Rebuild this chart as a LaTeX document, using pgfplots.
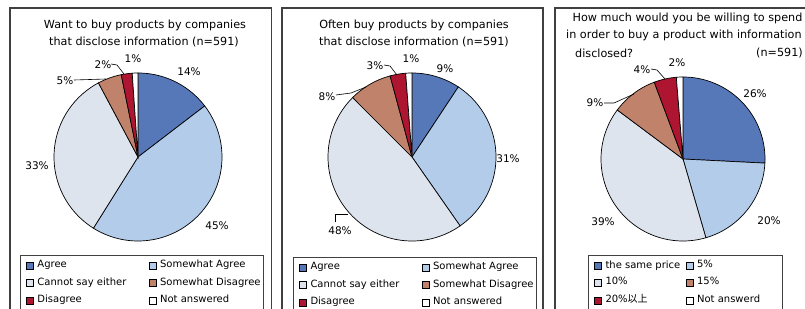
\documentclass[border=0pt]{standalone}
\usepackage{pgfplots}
\pgfplotsset{compat=1.18}
\usepackage{fontspec}
\setmainfont{DejaVu Sans}
\newfontfamily\cjk{Noto Sans CJK JP}
\definecolor{cA}{HTML}{5677B8}
\definecolor{cB}{HTML}{B3CCEA}
\definecolor{cC}{HTML}{DEE4EE}
\definecolor{cD}{HTML}{C0826A}
\definecolor{cE}{HTML}{AE1530}
\definecolor{cF}{HTML}{FFFFFF}
\definecolor{frame}{HTML}{404040}
% slice: #1 = start (cumulative %), #2 = value (%), #3 = colour
\newcommand{\slice}[3]{\addplot[fill=#3, draw=black, line width=0.7pt, domain={90-3.6*(#1+#2)}:{90-3.6*(#1)}, samples=80, forget plot] ({cos(x)},{sin(x)}) -- (axis cs:0,0) -- cycle;}
\pgfplotsset{pie/.style={scale only axis, hide axis, xmin=-1, xmax=1, ymin=-1, ymax=1, clip=false, anchor=south west,
  legend columns=2, legend cell align=left,
  legend image code/.code={\draw[##1, draw=black, line width=0.6pt] (0pt,-3.5pt) rectangle (7pt,3.5pt);},
  legend style={draw=frame, line width=0.8pt, fill=white, inner xsep=6pt, inner ysep=3pt, anchor=north west, row sep=1.5pt,
    font=\fontsize{10}{12}\selectfont, nodes={inner xsep=3.5pt, inner ysep=2pt, text depth=4pt}}}}
\newcommand{\lbl}{\fontsize{10.5}{12}\selectfont}
\newcommand{\ttl}{\fontsize{11.2}{13}\selectfont}
\begin{document}
\begin{tikzpicture}[x=1pt,y=1pt]
\useasboundingbox (0,0) rectangle (805,308);
\clip (0,0) rectangle (805,308);
% panel frames
\draw[frame, line width=1.2pt] (10,-5) rectangle (271.5,300);
\draw[frame, line width=1.2pt] (282,-5) rectangle (543,300);
\draw[frame, line width=1.2pt] (555,-5) rectangle (815,300);
% ---------- panel 1 ----------
\node[font=\ttl] at (145,283) {Want to buy products by companies};
\node[font=\ttl] at (144,266) {that disclose information (n=591)};
\begin{axis}[pie, at={(54pt,67pt)}, width=168pt, height=168pt,
  legend style={at={(-0.2024,-0.0833)}}]
\slice{0}{14.6}{cA}
\slice{14.6}{44.3}{cB}
\slice{58.9}{33.3}{cC}
\slice{92.2}{4.6}{cD}
\slice{96.8}{2.1}{cE}
\slice{98.9}{1.1}{cF}
\addlegendimage{fill=cA}\addlegendentry{\makebox[108pt][l]{Agree}}
\addlegendimage{fill=cB}\addlegendentry{\makebox[94pt][l]{Somewhat Agree}}
\addlegendimage{fill=cC}\addlegendentry{\makebox[108pt][l]{Cannot say either}}
\addlegendimage{fill=cD}\addlegendentry{\makebox[94pt][l]{Somewhat Disagree}}
\addlegendimage{fill=cE}\addlegendentry{\makebox[108pt][l]{Disagree}}
\addlegendimage{fill=cF}\addlegendentry{\makebox[94pt][l]{Not answered}}
\end{axis}
\node[font=\lbl] at (189,236) {14\%};
\node[font=\lbl] at (217,82) {45\%};
\node[font=\lbl] at (37,142) {33\%};
\node[font=\lbl] at (65,227) {5\%};
\node[font=\lbl] at (103,243) {2\%};
\node[font=\lbl] at (133,249) {1\%};
\draw[line width=0.6pt] (74,228) -- (106,229);
\draw[line width=0.6pt] (111,244) -- (117,243) -- (124,234);
% ---------- panel 2 ----------
\node[font=\ttl] at (414,283) {Often buy products by companies};
\node[font=\ttl] at (414,266) {that disclose information (n=591)};
\begin{axis}[pie, at={(328pt,67pt)}, width=168pt, height=168pt,
  legend style={at={(-0.2083,-0.0952)}}]
\slice{0}{9.3}{cA}
\slice{9.3}{31.0}{cB}
\slice{40.3}{47.2}{cC}
\slice{87.5}{8.3}{cD}
\slice{95.8}{3.0}{cE}
\slice{98.8}{1.2}{cF}
\addlegendimage{fill=cA}\addlegendentry{\makebox[108pt][l]{Agree}}
\addlegendimage{fill=cB}\addlegendentry{\makebox[94pt][l]{Somewhat Agree}}
\addlegendimage{fill=cC}\addlegendentry{\makebox[108pt][l]{Cannot say either}}
\addlegendimage{fill=cD}\addlegendentry{\makebox[94pt][l]{Somewhat Disagree}}
\addlegendimage{fill=cE}\addlegendentry{\makebox[108pt][l]{Disagree}}
\addlegendimage{fill=cF}\addlegendentry{\makebox[94pt][l]{Not answered}}
\end{axis}
\node[font=\lbl] at (445,239) {9\%};
\node[font=\lbl] at (508,149) {31\%};
\node[font=\lbl] at (340,77) {48\%};
\node[font=\lbl] at (327,211) {8\%};
\node[font=\lbl] at (375,242) {3\%};
\node[font=\lbl] at (411,249) {1\%};
\draw[line width=0.6pt] (335,86) -- (335,94) -- (348,94);
\draw[line width=0.6pt] (336,213) -- (351,215) -- (366,221);
\draw[line width=0.6pt] (384,243) -- (390,242) -- (397,233);
% ---------- panel 3 ----------
\node[font=\ttl] at (687.5,290) {How much would you be willing to spend};
\node[font=\ttl, anchor=west, inner sep=0pt] at (566,273) {in order to buy a product with information};
\node[font=\ttl, anchor=west, inner sep=0pt] at (575,255) {disclosed?};
\node[font=\ttl, anchor=east, inner sep=0pt] at (803,255) {(n=591)};
\begin{axis}[pie, at={(601pt,67pt)}, width=164pt, height=164pt,
  legend style={at={(-0.0793,-0.0854)}}]
\slice{0}{25.8}{cA}
\slice{25.8}{19.7}{cB}
\slice{45.5}{39.7}{cC}
\slice{85.2}{9.1}{cD}
\slice{94.3}{4.4}{cE}
\slice{98.7}{1.3}{cF}
\addlegendimage{fill=cA}\addlegendentry{\makebox[77pt][l]{the same price}}
\addlegendimage{fill=cB}\addlegendentry{\makebox[76pt][l]{5\%}}
\addlegendimage{fill=cC}\addlegendentry{\makebox[77pt][l]{10\%}}
\addlegendimage{fill=cD}\addlegendentry{\makebox[76pt][l]{15\%}}
\addlegendimage{fill=cE}\addlegendentry{\makebox[77pt][l]{20\%{\cjk 以上}}}
\addlegendimage{fill=cF}\addlegendentry{\makebox[76pt][l]{Not answerd}}
\end{axis}
\node[font=\lbl] at (755,214) {26\%};
\node[font=\lbl] at (769,87) {20\%};
\node[font=\lbl] at (603,86) {39\%};
\node[font=\lbl] at (595,205) {9\%};
\node[font=\lbl] at (642,238) {4\%};
\node[font=\lbl] at (677,245) {2\%};
\draw[line width=0.6pt] (604,205) -- (614,205) -- (634,214);
\draw[line width=0.6pt] (651,239) -- (657,238) -- (665,229);
\end{tikzpicture}
\end{document}
